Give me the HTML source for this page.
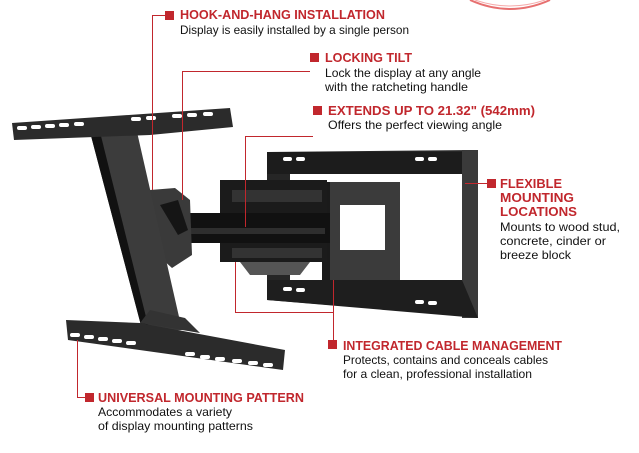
<!DOCTYPE html>
<html><head><meta charset="utf-8"><style>
html,body{margin:0;padding:0;background:#fff;width:639px;height:453px;overflow:hidden}
svg{display:block}
.t{font-family:"Liberation Sans Narrow","Liberation Sans",sans-serif;font-weight:bold;fill:#c1272d;font-size:12.5px}
.b{font-family:"Liberation Sans Narrow","Liberation Sans",sans-serif;fill:#111;font-size:12px}
</style></head><body>
<svg width="639" height="453" viewBox="0 0 639 453" xmlns="http://www.w3.org/2000/svg">
<path d="M470 0 Q510 18 550 0" fill="none" stroke="#d33" stroke-width="2" opacity="0.7"/>
<path d="M475 0 Q510 12 545 0" fill="none" stroke="#e55" stroke-width="1" opacity="0.5"/>

<path d="M267 152 L478 150 L478 317 L267 300 Z M290 174 L462 174 L462 280 L290 280 Z" fill="#262626" fill-rule="evenodd"/>
<rect x="462" y="150" width="16" height="168" fill="#3a3a3a"/>
<rect x="267" y="152" width="195" height="22" fill="#1c1c1c"/>
<path d="M267 280 L462 280 L478 318 L267 300 Z" fill="#1e1e1e"/>
<g fill="#fff"><rect x="283" y="157" width="9" height="4" rx="2"/><rect x="296" y="157" width="9" height="4" rx="2"/><rect x="415" y="157" width="9" height="4" rx="2"/><rect x="428" y="157" width="9" height="4" rx="2"/>
<rect x="283" y="287" width="9" height="4" rx="2"/><rect x="296" y="288" width="9" height="4" rx="2"/><rect x="415" y="300" width="9" height="4" rx="2"/><rect x="428" y="301" width="9" height="4" rx="2"/></g>
<path d="M322 182 L400 182 L400 280 L322 280 Z M340 205 L385 205 L385 250 L340 250 Z" fill="#3b3b3b" fill-rule="evenodd"/>
<rect x="322" y="182" width="8" height="98" fill="#1a1a1a"/>
<rect x="220" y="180" width="107" height="82" fill="#1b1b1b"/>
<rect x="232" y="190" width="90" height="12" fill="#333"/>
<rect x="232" y="248" width="90" height="10" fill="#333"/>
<rect x="185" y="213" width="145" height="30" fill="#111"/>
<rect x="190" y="228" width="135" height="6" fill="#2e2e2e"/>
<path d="M240 262 L310 262 L300 275 L250 275 Z" fill="#555"/>
<path d="M150 190 L175 188 L190 200 L192 255 L172 268 L152 250 Z" fill="#3a3a3a"/>
<path d="M160 205 L178 200 L188 230 L178 235 Z" fill="#151515"/>
<path d="M90 132 L137 132 L182 330 L143 333 Z" fill="#3c3c3c"/>
<path d="M90 132 L100 132 L150 333 L143 333 Z" fill="#111"/>
<path d="M12 123 L230 108 L233 127 L150 135 L14 140 Z" fill="#2b2b2b"/>
<g fill="#fff"><rect x="17" y="126" width="10" height="4" rx="2"/><rect x="31" y="125" width="10" height="4" rx="2"/><rect x="45" y="124" width="10" height="4" rx="2"/><rect x="59" y="123" width="10" height="4" rx="2"/><rect x="74" y="122" width="10" height="4" rx="2"/>
<rect x="131" y="117" width="10" height="4" rx="2"/><rect x="146" y="116" width="10" height="4" rx="2"/><rect x="172" y="114" width="10" height="4" rx="2"/><rect x="187" y="113" width="10" height="4" rx="2"/><rect x="203" y="112" width="10" height="4" rx="2"/></g>
<path d="M66 320 L140 323 L285 350 L283 370 L68 340 Z" fill="#2b2b2b"/>
<path d="M140 323 L150 310 L185 318 L200 333 Z" fill="#333"/>
<g fill="#fff"><rect x="70" y="333" width="10" height="4" rx="2"/><rect x="84" y="335" width="10" height="4" rx="2"/><rect x="98" y="337" width="10" height="4" rx="2"/><rect x="112" y="339" width="10" height="4" rx="2"/><rect x="126" y="341" width="10" height="4" rx="2"/>
<rect x="185" y="352" width="10" height="4" rx="2"/><rect x="200" y="355" width="10" height="4" rx="2"/><rect x="215" y="357" width="10" height="4" rx="2"/><rect x="232" y="359" width="10" height="4" rx="2"/><rect x="248" y="361" width="10" height="4" rx="2"/><rect x="263" y="363" width="10" height="4" rx="2"/></g>

<g fill="none" stroke="#c1272d" stroke-width="1">
<polyline points="165,15.5 152.5,15.5 152.5,190"/>
<polyline points="310,71.5 182.5,71.5 182.5,200"/>
<polyline points="313,136.5 245.5,136.5 245.5,227"/>
<polyline points="487,183.5 465,183.5"/>
<polyline points="235.5,262 235.5,312.5 333.5,312.5"/>
<polyline points="333.5,280 333.5,340"/>
<polyline points="77.5,340 77.5,397.5 85,397.5"/>
</g>
<g fill="#c1272d">
<rect x="165" y="11" width="9" height="9"/>
<rect x="310" y="53" width="9" height="9"/>
<rect x="313" y="106" width="9" height="9"/>
<rect x="487" y="179" width="9" height="9"/>
<rect x="328" y="340" width="9" height="9"/>
<rect x="85" y="393" width="9" height="9"/>
</g>

<text class="t" x="180" y="19" textLength="205" lengthAdjust="spacingAndGlyphs">HOOK-AND-HANG INSTALLATION</text>
<text class="b" x="180" y="34" textLength="229" lengthAdjust="spacingAndGlyphs">Display is easily installed by a single person</text>

<text class="t" x="325" y="62" textLength="87" lengthAdjust="spacingAndGlyphs">LOCKING TILT</text>
<text class="b" x="325" y="77" textLength="156" lengthAdjust="spacingAndGlyphs">Lock the display at any angle</text>
<text class="b" x="325" y="91" textLength="143" lengthAdjust="spacingAndGlyphs">with the ratcheting handle</text>

<text class="t" x="328" y="115" textLength="207" lengthAdjust="spacingAndGlyphs">EXTENDS UP TO 21.32" (542mm)</text>
<text class="b" x="328" y="129" textLength="174" lengthAdjust="spacingAndGlyphs">Offers the perfect viewing angle</text>

<text class="t" x="500" y="188" textLength="62" lengthAdjust="spacingAndGlyphs">FLEXIBLE</text>
<text class="t" x="500" y="202" textLength="74" lengthAdjust="spacingAndGlyphs">MOUNTING</text>
<text class="t" x="500" y="216" textLength="77" lengthAdjust="spacingAndGlyphs">LOCATIONS</text>
<text class="b" x="500" y="231" textLength="120" lengthAdjust="spacingAndGlyphs">Mounts to wood stud,</text>
<text class="b" x="500" y="245" textLength="106" lengthAdjust="spacingAndGlyphs">concrete, cinder or</text>
<text class="b" x="500" y="259" textLength="71" lengthAdjust="spacingAndGlyphs">breeze block</text>

<text class="t" x="343" y="350" textLength="219" lengthAdjust="spacingAndGlyphs">INTEGRATED CABLE MANAGEMENT</text>
<text class="b" x="343" y="364" textLength="205" lengthAdjust="spacingAndGlyphs">Protects, contains and conceals cables</text>
<text class="b" x="343" y="378" textLength="189" lengthAdjust="spacingAndGlyphs">for a clean, professional installation</text>

<text class="t" x="98" y="402" textLength="206" lengthAdjust="spacingAndGlyphs">UNIVERSAL MOUNTING PATTERN</text>
<text class="b" x="98" y="416" textLength="134" lengthAdjust="spacingAndGlyphs">Accommodates a variety</text>
<text class="b" x="98" y="430" textLength="155" lengthAdjust="spacingAndGlyphs">of display mounting patterns</text>
</svg>
</body></html>
